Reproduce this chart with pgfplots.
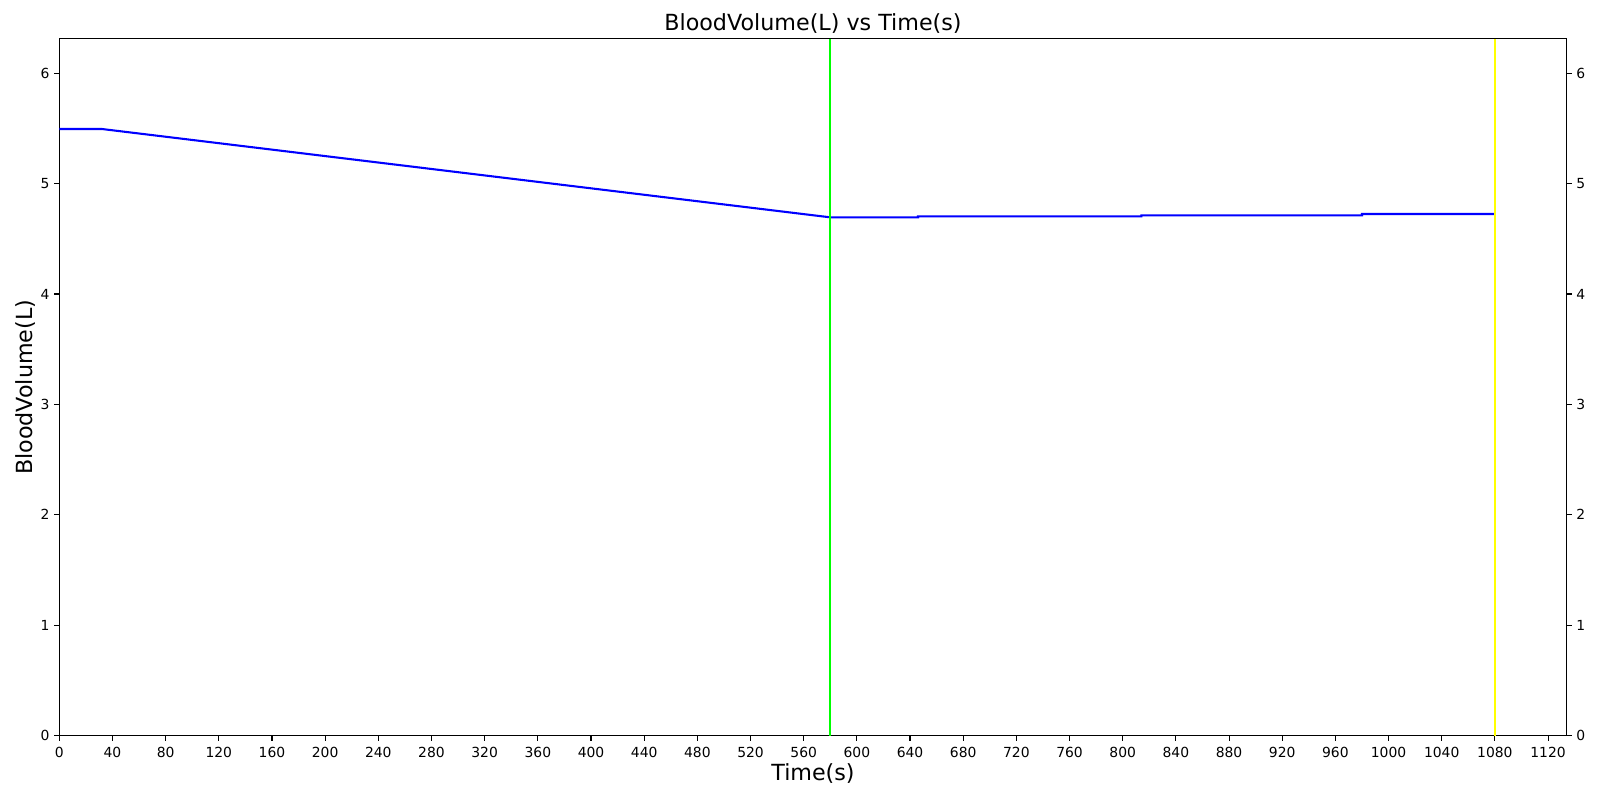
\documentclass[border=0pt]{standalone}
\usepackage{fontspec}
\setmainfont{DejaVu Sans}
\usepackage{pgfplots}
\pgfplotsset{compat=1.18}
\definecolor{mylime}{RGB}{0,255,0}
\definecolor{myyellow}{RGB}{255,255,0}
\begin{document}
\begin{tikzpicture}
\pgfplotsset{
  common/.style={
    at={(0,0)}, anchor=south west,
    scale only axis,
    width=1085.3bp, height=501.7bp,
    xmin=0, xmax=1134, ymin=0, ymax=6.31,
    tick align=outside,
    major tick length=3.5bp,
    tick style={black, line width=0.8bp},
    ytick={0,1,2,3,4,5,6},
    /pgf/number format/assume math mode=true,
    tick label style={font=\fontsize{10bp}{12bp}\selectfont},
    axis line style={line width=0.8bp},
  }
}
\begin{axis}[common,
  xtick={0,40,...,1120},
  xtick pos=bottom,
  ytick pos=left,
  xticklabel style={yshift=-1bp},
  /pgf/number format/.cd, 1000 sep={}, /pgfplots/.cd,
  xlabel={Time(s)},
  ylabel={BloodVolume(L)},
  title={BloodVolume(L) vs Time(s)},
  every axis title shift=0pt,
  xlabel style={font=\fontsize{16bp}{19bp}\selectfont, at={(axis description cs:0.5,-0.0538)}, anchor=center},
  ylabel style={font=\fontsize{16bp}{19bp}\selectfont, at={(axis description cs:-0.0225,0.5)}, anchor=center},
  title style={font=\fontsize{16bp}{19bp}\selectfont, at={(axis description cs:0.5,1.0219)}, anchor=center, yshift=0pt},
]
\addplot[blue, line width=1.5bp] coordinates {
(0,5.494)(32,5.494)(580,4.694)(646,4.694)(646,4.703)(814,4.703)(814,4.712)(980,4.712)(980,4.724)(1080,4.724)};
\addplot[mylime, line width=1.5bp] coordinates {(580,0)(580,6.31)};
\addplot[myyellow, line width=1.5bp] coordinates {(1080,0)(1080,6.31)};
\end{axis}
\begin{axis}[common,
  axis x line=none,
  axis y line*=right,
  ytick pos=right,
  yticklabel pos=right,
]
\end{axis}
\path[use as bounding box] (-42.7bp,-46.3bp) rectangle (1109.3bp,529.7bp);
\end{tikzpicture}
\end{document}
